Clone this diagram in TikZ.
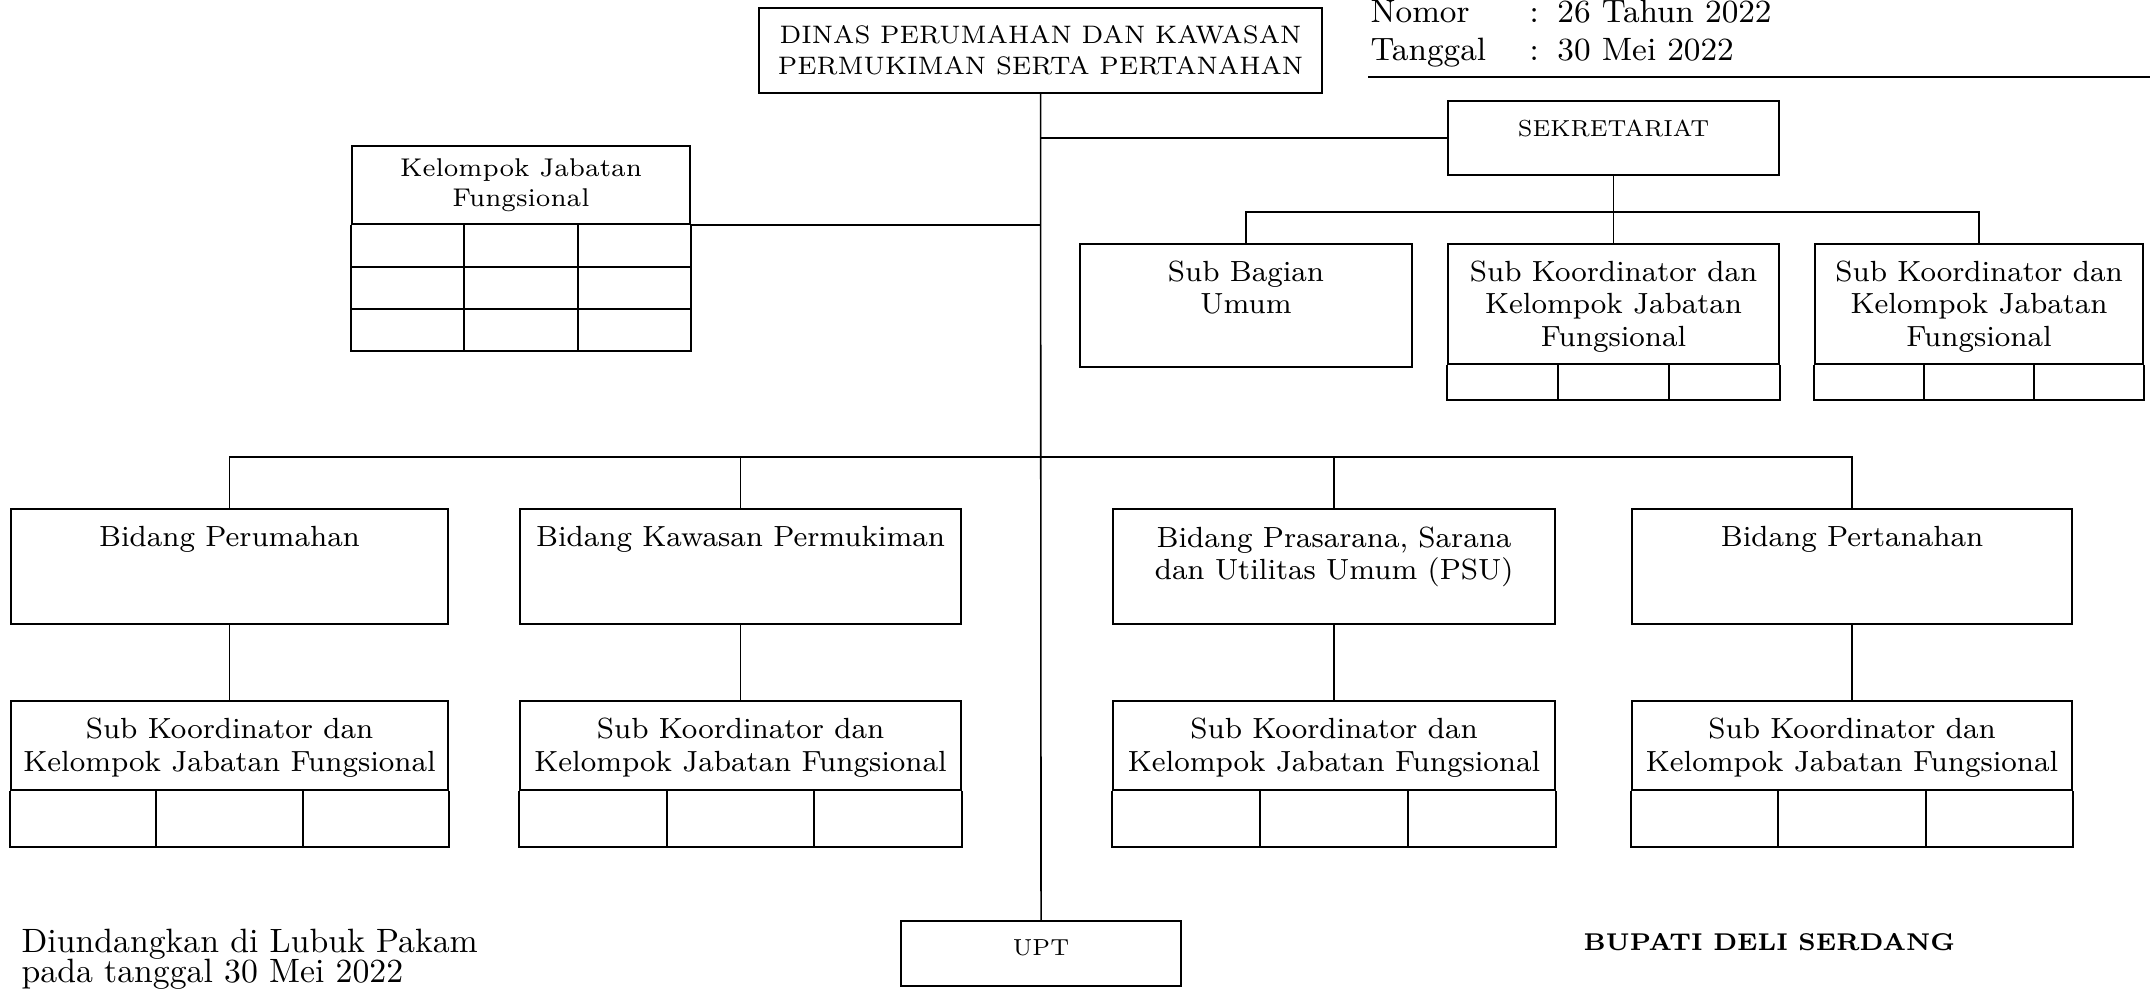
\documentclass[tikz,border=0pt]{standalone}
\usetikzlibrary{positioning,calc}

\newcommand{\boxfont}{\fontsize{8.3}{9.3}\selectfont}
\newcommand{\capfont}{\fontsize{7.2}{8.8}\selectfont}

\tikzset{
  orgbox/.style={draw, line width=0.6pt, inner sep=0pt, anchor=north west},
  lbl/.style={inner sep=0pt, align=center, font=\boxfont},
  conn/.style={line width=0.45pt},
  cell/.style={line width=0.6pt}
}

\begin{document}
\begin{tikzpicture}[x=0.1mm, y=-0.1mm]
  \useasboundingbox (0,0) rectangle (2150,988);

  % Head of office
  \node[orgbox, minimum width=56.3mm, minimum height=8.5mm, align=center, font=\capfont] (dinas) at (758,7) {DINAS PERUMAHAN DAN KAWASAN\\PERMUKIMAN SERTA PERTANAHAN};

  % Nomor and Tanggal
  \node[anchor=base west, inner sep=0pt, font=\fontsize{9.2}{11}\selectfont] (nomor) at (1370,22) {\begin{tabular}[t]{@{}l@{}l@{\hspace{1.85mm}}l@{}}\makebox[15.9mm][l]{Nomor} & : & 26 Tahun 2022\\ \makebox[15.9mm][l]{Tanggal} & : & 30 Mei 2022\end{tabular}};
  \coordinate (ruleL) at (1368,77);
  \coordinate (ruleR) at (2150,77);
  \draw[cell] (ruleL) -- (ruleR);

  % Sekretariat and its units
  \node[orgbox, minimum width=33.1mm, minimum height=7.4mm] (sek) at (1447,100) {};
  \node[lbl, font=\fontsize{6.6}{8}\selectfont, below=1.9mm of sek.north] (sekT) {SEKRETARIAT};
  \node[orgbox, minimum width=33.2mm, minimum height=12.3mm] (sbu) at (1079,243) {};
  \node[lbl, below=1.7mm of sbu.north] (sbuT) {Sub Bagian\\Umum};
  \node[orgbox, minimum width=33.1mm, minimum height=12mm] (skA) at (1447,243) {};
  \node[lbl, below=1.7mm of skA.north] (skAT) {Sub Koordinator dan\\Kelompok Jabatan\\Fungsional};
  \node[orgbox, minimum width=32.8mm, minimum height=12mm] (skB) at (1814,243) {};
  \node[lbl, below=1.7mm of skB.north] (skBT) {Sub Koordinator dan\\Kelompok Jabatan\\Fungsional};

  % Kelompok Jabatan Fungsional
  \node[orgbox, minimum width=33.8mm, minimum height=7.8mm] (kjf) at (351,145) {};
  \node[lbl, font=\fontsize{7.3}{8.5}\selectfont, below=1.3mm of kjf.north] (kjfT) {Kelompok Jabatan\\Fungsional};

  % Bidang
  \node[orgbox, minimum width=43.7mm, minimum height=11.5mm] (bPer) at (10,508) {};
  \node[orgbox, minimum width=44.1mm, minimum height=11.5mm] (bKaw) at (519,508) {};
  \node[orgbox, minimum width=44.2mm, minimum height=11.5mm] (bPsu) at (1112,508) {};
  \node[orgbox, minimum width=44mm, minimum height=11.5mm] (bTan) at (1631,508) {};
  \node[lbl, below=1.8mm of bPer.north] (bPerT) {Bidang Perumahan};
  \node[lbl, below=1.8mm of bKaw.north] (bKawT) {Bidang Kawasan Permukiman};
  \node[lbl, below=1.8mm of bPsu.north] (bPsuT) {Bidang Prasarana, Sarana\\dan Utilitas Umum (PSU)};
  \node[lbl, below=1.8mm of bTan.north] (bTanT) {Bidang Pertanahan};

  % Sub Koordinator under each Bidang
  \node[orgbox, below=7.5mm of bPer, minimum width=43.7mm, minimum height=8.9mm] (skPer) {};
  \node[orgbox, below=7.5mm of bKaw, minimum width=44.1mm, minimum height=8.9mm] (skKaw) {};
  \node[orgbox, below=7.5mm of bPsu, minimum width=44.2mm, minimum height=8.9mm] (skPsu) {};
  \node[orgbox, below=7.5mm of bTan, minimum width=44mm, minimum height=8.9mm] (skTan) {};
  \foreach \n in {skPer,skKaw,skPsu,skTan}
    \node[lbl, below=1.7mm of \n.north] (\n T) {Sub Koordinator dan\\Kelompok Jabatan Fungsional};

  % UPT
  \node[orgbox, minimum width=28mm, minimum height=6.5mm] (upt) at (900,920) {};
  \node[lbl, font=\fontsize{6.6}{8}\selectfont, below=1.9mm of upt.north] (uptT) {UPT};

  % Cells under the boxes
  \foreach \n/\h in {skA/35, skB/35, skPer/56, skKaw/56, skPsu/56, skTan/56}{
    \draw[cell] (\n.south west) -- ++(0,\h) -| (\n.south east);
    \foreach \f in {1/3, 2/3}
      \draw[cell] ($(\n.south west)!\f!(\n.south east)$) -- ++(0,\h);
  }
  \draw[cell] (kjf.south west) -- ++(0,126) -| (kjf.south east);
  \foreach \r in {42,84}
    \draw[cell] ($(kjf.south west)+(0,\r)$) -- ($(kjf.south east)+(0,\r)$);
  \foreach \f in {1/3, 2/3}
    \draw[cell] ($(kjf.south west)!\f!(kjf.south east)$) -- ++(0,126);

  % Connectors
  \coordinate (subJ) at (1613,212);
  \coordinate (bidJ) at (1040,457);
  \draw[conn] (dinas.south) -- (upt.north);
  \draw[conn] (sek.west) -- (sek.west -| dinas.south);
  \draw[conn] (kjf.south east) -- (kjf.south east -| dinas.south);
  \draw[conn] (sek.south) -- (skA.north);
  \draw[conn] (sbu.north) |- (subJ) -| (skB.north);
  \draw[conn] (bPer.north) |- (bidJ) -| (bTan.north);
  \draw[conn] (bKaw.north) -- (bKaw.north |- bidJ);
  \draw[conn] (bPsu.north) -- (bPsu.north |- bidJ);
  \foreach \b/\s in {bPer/skPer, bKaw/skKaw, bPsu/skPsu, bTan/skTan}
    \draw[conn] (\b) -- (\s);

  % Footer
  \node[anchor=north west, inner sep=0pt, align=left, font={\fontsize{9.6}{8.7}\selectfont\lineskiplimit=-10pt}] (diund) at (21,928) {Diundangkan di Lubuk Pakam\\pada tanggal 30 Mei 2022};
  \node[anchor=base west, inner sep=0pt, font=\fontsize{6.9}{8.4}\selectfont\bfseries] (bupati) at (1583,950) {BUPATI DELI SERDANG};
\end{tikzpicture}
\end{document}
